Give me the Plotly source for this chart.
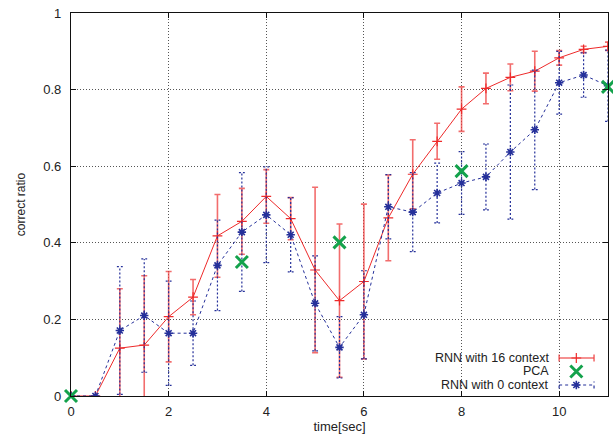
import plotly.graph_objects as go

# ---- data -------------------------------------------------------------
time_sec = [0, 0.5, 1, 1.5, 2, 2.5, 3, 3.5, 4, 4.5, 5, 5.5, 6, 6.5, 7, 7.5,
            8, 8.5, 9, 9.5, 10, 10.5, 11]

rnn16_mean = [0, 0, 0.125, 0.133, 0.207, 0.258, 0.418, 0.456, 0.521, 0.463,
              0.329, 0.249, 0.299, 0.465, 0.579, 0.665, 0.749, 0.803, 0.832,
              0.848, 0.883, 0.905, 0.913]
rnn16_std = [0, 0, 0.155, 0.181, 0.118, 0.046, 0.108, 0.086, 0.070, 0.055,
             0.216, 0.200, 0.202, 0.112, 0.090, 0.047, 0.058, 0.040, 0.035,
             0.052, 0.019, 0.008, 0.011]

rnn0_mean = [0, 0, 0.171, 0.210, 0.164, 0.164, 0.341, 0.428, 0.473, 0.421,
             0.242, 0.127, 0.212, 0.494, 0.480, 0.530, 0.556, 0.572, 0.637,
             0.695, 0.818, 0.838, 0.810]
rnn0_std = [0, 0, 0.167, 0.148, 0.136, 0.084, 0.118, 0.155, 0.125, 0.097,
            0.124, 0.080, 0.115, 0.084, 0.103, 0.078, 0.082, 0.086, 0.175,
            0.156, 0.082, 0.058, 0.093]

pca_time = [0, 3.5, 5.5, 8, 11]
pca_ratio = [0.0, 0.350, 0.401, 0.587, 0.807]

x_ticks = [0, 2, 4, 6, 8, 10]
y_ticks = [0, 0.2, 0.4, 0.6, 0.8, 1.0]
y_tick_text = ["0", "0.2", "0.4", "0.6", "0.8", "1"]

legend_names = ["RNN with 16 context", "PCA", "RNN with 0 context"]

# ---- styling ------------------------------------------------------------
RED = "#ee2a2a"
RED_BAR = "rgba(238,60,60,0.75)"
BLUE = "#25309a"
GREEN = "#14a24c"
FONT = "Liberation Sans, Arial, sans-serif"
TEXT = "#222222"
CAP_HALF = 0.06          # half width of the dashed error-bar caps (x units)

fig = go.Figure()

# RNN with 16 context: solid red line, "+" markers, error bars
fig.add_trace(go.Scatter(
    x=time_sec, y=rnn16_mean, mode="lines+markers", name=legend_names[0],
    line=dict(color=RED, width=1),
    marker=dict(symbol="cross-thin", size=7, color=RED,
                line=dict(color=RED, width=1.2)),
    error_y=dict(type="data", array=rnn16_std, visible=True,
                 color=RED_BAR, thickness=1.6, width=3),
    showlegend=False,
))

# RNN with 0 context: dashed error bars built from mean +/- std
ex, ey = [], []
for t, m, s in zip(time_sec, rnn0_mean, rnn0_std):
    if s <= 0:
        continue
    lo, hi = m - s, m + s
    ex += [t, t, None, t - CAP_HALF, t + CAP_HALF, None,
           t - CAP_HALF, t + CAP_HALF, None]
    ey += [lo, hi, None, hi, hi, None, lo, lo, None]
fig.add_trace(go.Scatter(
    x=ex, y=ey, mode="lines", line=dict(color=BLUE, width=1.2, dash="2px,2px"),
    hoverinfo="skip", showlegend=False,
))
fig.add_trace(go.Scatter(
    x=time_sec, y=rnn0_mean, mode="lines+markers", name=legend_names[2],
    line=dict(color=BLUE, width=1, dash="3px,3px"),
    marker=dict(symbol="asterisk-open", size=7, color=BLUE,
                line=dict(color=BLUE, width=1.6)),
    showlegend=False,
))

# PCA: thick green crosses
fig.add_trace(go.Scatter(
    x=pca_time, y=pca_ratio, mode="markers", name=legend_names[1],
    marker=dict(symbol="x-thin", size=12, color=GREEN,
                line=dict(color=GREEN, width=3)),
    cliponaxis=False, showlegend=False,
))

# ---- key (sample on the right of right-aligned labels) -------------------
KEY_X0, KEY_X1, KEY_XC = 0.909, 0.974, 0.941
KEY_ROWS = [0.0992, 0.0640, 0.0287]
KEY_CAP = 0.009
TEXT_X = 0.892

r0, r1, r2 = KEY_ROWS
fig.add_trace(go.Scatter(
    x=[KEY_X0, KEY_X1, None, KEY_X0, KEY_X0, None, KEY_X1, KEY_X1],
    y=[r0, r0, None, r0 - KEY_CAP, r0 + KEY_CAP, None, r0 - KEY_CAP, r0 + KEY_CAP],
    mode="lines", line=dict(color=RED_BAR, width=1.6),
    xaxis="x2", yaxis="y2", showlegend=False, hoverinfo="skip"))
fig.add_trace(go.Scatter(
    x=[KEY_XC], y=[r0], mode="markers",
    marker=dict(symbol="cross-thin", size=7, color=RED,
                line=dict(color=RED, width=1.2)),
    xaxis="x2", yaxis="y2", showlegend=False, hoverinfo="skip"))
fig.add_trace(go.Scatter(
    x=[KEY_XC], y=[r1], mode="markers",
    marker=dict(symbol="x-thin", size=12, color=GREEN,
                line=dict(color=GREEN, width=3)),
    xaxis="x2", yaxis="y2", showlegend=False, hoverinfo="skip"))
fig.add_trace(go.Scatter(
    x=[KEY_X0, KEY_X1, None, KEY_X0, KEY_X0, None, KEY_X1, KEY_X1],
    y=[r2, r2, None, r2 - KEY_CAP, r2 + KEY_CAP, None, r2 - KEY_CAP, r2 + KEY_CAP],
    mode="lines", line=dict(color=BLUE, width=1.2, dash="3px,3px"),
    xaxis="x2", yaxis="y2", showlegend=False, hoverinfo="skip"))
fig.add_trace(go.Scatter(
    x=[KEY_XC], y=[r2], mode="markers",
    marker=dict(symbol="asterisk-open", size=7, color=BLUE,
                line=dict(color=BLUE, width=1.6)),
    xaxis="x2", yaxis="y2", showlegend=False, hoverinfo="skip"))

for name, row in zip(legend_names, KEY_ROWS):
    fig.add_annotation(x=TEXT_X, y=row, xref="paper", yref="paper",
                       text=name, showarrow=False, xanchor="right",
                       yanchor="middle", borderpad=0,
                       font=dict(family=FONT, size=12.5, color=TEXT))

# ---- axes ---------------------------------------------------------------
axis_common = dict(
    showline=True, linecolor="#111111", linewidth=1.3, mirror="ticks",
    ticks="inside", ticklen=5, tickcolor="#111111", tickwidth=1,
    showgrid=True, gridcolor="#555555", griddash="1px,2px", gridwidth=1,
    zeroline=False, tickfont=dict(family=FONT, size=13, color=TEXT),
)

fig.update_layout(
    width=613, height=437,
    margin=dict(l=71, r=5, t=13, b=41),
    paper_bgcolor="white", plot_bgcolor="white",
    font=dict(family=FONT, size=13, color=TEXT),
    xaxis=dict(range=[0, 11], tickvals=x_ticks, ticklabelstandoff=3,
               title=dict(text="time[sec]", standoff=2,
                          font=dict(family=FONT, size=13, color=TEXT)),
               **axis_common),
    yaxis=dict(range=[0, 1], tickvals=y_ticks, ticktext=y_tick_text,
               ticklabelstandoff=6,
               title=dict(text="correct ratio", standoff=14,
                          font=dict(family=FONT, size=12, color=TEXT)),
               **axis_common),
    xaxis2=dict(range=[0, 1], overlaying="x", anchor="y2", visible=False),
    yaxis2=dict(range=[0, 1], overlaying="y", anchor="x2", visible=False),
    showlegend=False,
)

fig.write_html("out.html")
